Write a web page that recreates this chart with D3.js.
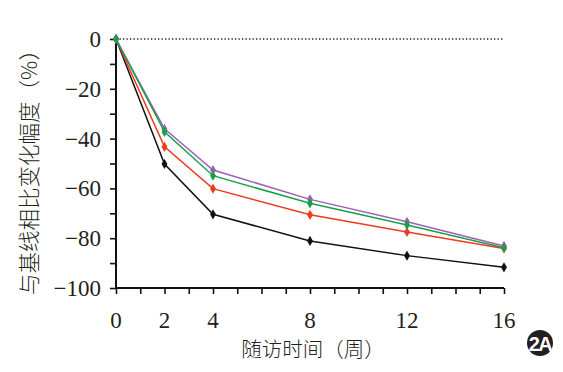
<!DOCTYPE html>
<html>
<head>
<meta charset="utf-8">
<script src="https://cdn.jsdelivr.net/npm/d3@7"></script>
<style>
  body { margin: 0; background: #fff; }
  svg { display: block; }
</style>
</head>
<body>
<script>
const weeks = [0, 2, 4, 8, 12, 16];
const blackVals = [0, -50.2, -70.4, -81.1, -87.0, -91.7];
const redVals = [0, -43.3, -60.1, -70.6, -77.5, -84.1];
const purpleVals = [0, -36.1, -52.6, -64.4, -73.4, -83.1];
const greenVals = [0, -37.3, -54.9, -66.0, -74.7, -83.8];
const xTickLabels = [0, 2, 4, 8, 12, 16];
const yTickLabels = [0, -20, -40, -60, -80, -100];

const series = [
  { name: 'black', color: '#111111', values: blackVals },
  { name: 'red', color: '#ec3b1d', values: redVals },
  { name: 'purple', color: '#9d62b3', values: purpleVals },
  { name: 'green', color: '#17a04b', values: greenVals }
];

const width = 563, height = 372;
const margin = { left: 116, right: 59, top: 39, bottom: 84 };

const svg = d3.select('body').append('svg')
  .attr('width', width)
  .attr('height', height);

const x = d3.scaleLinear().domain([0, 16]).range([margin.left, width - margin.right]);
const y = d3.scaleLinear().domain([0, -100]).range([margin.top, height - margin.bottom]);

const serif = '"Liberation Serif", "DejaVu Serif", serif';
const cjk = '"Noto Sans CJK SC", sans-serif';

// zero reference line
svg.append('line')
  .attr('x1', x(0)).attr('x2', x(16))
  .attr('y1', y(0)).attr('y2', y(0))
  .attr('stroke', '#222')
  .attr('stroke-width', 1.3)
  .attr('stroke-dasharray', '1.3,2.2');

// y axis
const yAxis = d3.axisLeft(y).tickValues(d3.range(0, -101, -10)).tickSize(6).tickFormat('');
svg.append('g')
  .attr('transform', 'translate(' + margin.left + ',0)')
  .call(yAxis)
  .call(g => g.select('.domain').attr('stroke', '#111').attr('stroke-width', 2).attr('d', 'M0,' + y(0) + 'V' + y(-100)))
  .call(g => g.selectAll('.tick line').attr('stroke', '#111').attr('stroke-width', 1.6));

svg.append('g').selectAll('text')
  .data(yTickLabels)
  .join('text')
  .attr('x', margin.left - 15)
  .attr('y', d => y(d) + 8)
  .attr('text-anchor', 'end')
  .attr('font-family', serif)
  .attr('font-size', 23)
  .attr('fill', '#231f20')
  .text(d => d < 0 ? '\u2212' + Math.abs(d) : d);

// x axis
const xAxis = d3.axisBottom(x).tickValues(d3.range(0, 17, 1)).tickSize(6).tickFormat('');
svg.append('g')
  .attr('transform', 'translate(0,' + y(-100) + ')')
  .call(xAxis)
  .call(g => g.select('.domain').attr('stroke', '#111').attr('stroke-width', 2).attr('d', 'M' + (x(0) - 1) + ',0H' + x(16)))
  .call(g => g.selectAll('.tick line').attr('stroke', '#111').attr('stroke-width', 1.6));

svg.append('g').selectAll('text')
  .data(xTickLabels)
  .join('text')
  .attr('x', d => x(d))
  .attr('y', 328)
  .attr('text-anchor', 'middle')
  .attr('font-family', serif)
  .attr('font-size', 23)
  .attr('fill', '#231f20')
  .text(d => d);

// axis titles
svg.append('text')
  .attr('x', 313)
  .attr('y', 357)
  .attr('text-anchor', 'middle')
  .attr('font-family', cjk)
  .attr('font-weight', 300)
  .attr('font-size', 20.5)
  .attr('fill', '#231f20')
  .text('随访时间（周）');

svg.append('text')
  .attr('transform', 'translate(37,167) rotate(-90)')
  .attr('text-anchor', 'middle')
  .attr('font-family', cjk)
  .attr('font-weight', 300)
  .attr('font-size', 21.5)
  .attr('fill', '#231f20')
  .text('与基线相比变化幅度（%）');

// series
const line = d3.line()
  .x((d, i) => x(weeks[i]))
  .y(d => y(d));

const diamond = d3.symbol().type(d3.symbolDiamond).size(30);

series.forEach(s => {
  const g = svg.append('g').attr('class', 'series-' + s.name);
  g.append('path')
    .datum(s.values)
    .attr('d', line)
    .attr('fill', 'none')
    .attr('stroke', s.color)
    .attr('stroke-width', 1.5);
  g.selectAll('path.marker')
    .data(s.values)
    .join('path')
    .attr('class', 'marker')
    .attr('d', diamond)
    .attr('transform', (d, i) => 'translate(' + x(weeks[i]) + ',' + y(d) + ')')
    .attr('fill', s.color);
});

// panel badge
svg.append('circle')
  .attr('cx', 540).attr('cy', 343).attr('r', 13)
  .attr('fill', '#231f20');
svg.append('text')
  .attr('x', 540).attr('y', 351)
  .attr('text-anchor', 'middle')
  .attr('font-family', '"Liberation Sans", Arial, sans-serif')
  .attr('font-weight', 'bold')
  .attr('font-size', 20)
  .attr('letter-spacing', -1.5)
  .attr('fill', '#fff')
  .text('2A');
</script>
</body>
</html>
